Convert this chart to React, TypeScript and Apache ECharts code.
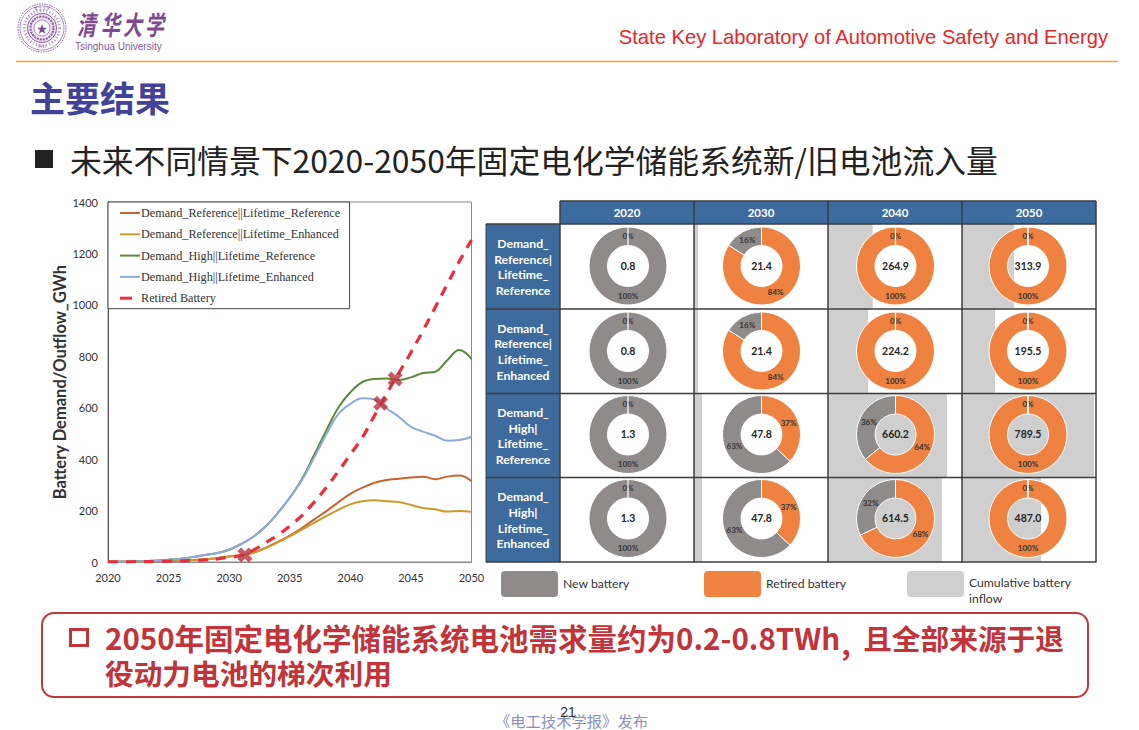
import React, { useEffect, useRef } from "react";
import * as echarts from "echarts";

const years = [2020,2021,2022,2023,2024,2025,2026,2027,2028,2029,2030,2031,2032,2033,2034,2035,2036,2037,2038,2039,2040,2041,2042,2043,2044,2045,2046,2047,2048,2049,2050];
const seriesNames = ["Demand_Reference||Lifetime_Reference","Demand_Reference||Lifetime_Enhanced","Demand_High||Lifetime_Reference","Demand_High||Lifetime_Enhanced","Retired Battery"];
const refRef = [0.8,0.9,1.2,2,3,4,5.5,7.5,10.5,15,21.4,27,36,55,78,103,132,165,197,232,264.9,289,308,319,324,329,332,322,332,336,313.9];
const refEnh = [0.8,0.9,1.2,2,3,4,5.5,7.5,10.5,15,21.4,27,36,54,76,100,126,152,178,203,224.2,236,240,236,233,222,210,205,196,198,195.5];
const highRef = [1.3,1,2,3,6,9,13,19,27,35,47.8,70,98,138,190,250,322,415,510,600,660.2,700,712,714,708,718,735,740,785,824,789.5];
const highEnh = [1.3,1,2,3,6,9,13,19,27,35,47.8,70,98,138,190,250,318,405,495,575,614.5,637,632,597,565,526,507,491,472,474,487];
const retired = [0.5,0.6,1,1.5,2,3,4,6,8,12,19,25,46,75,103,140,180,232,289,352,418,485,570,655,735,815,900,990,1080,1170,1252];
const crossPoints = [[2031.3,27],[2042.5,617],[2043.7,712]];
const yTicks = { min: 0, max: 1400, step: 200 };

const colHeads = ["2020","2030","2040","2050"];
const rowHeads = ["Demand_\nReference|\nLifetime_\nReference","Demand_\nReference|\nLifetime_\nEnhanced","Demand_\nHigh|\nLifetime_\nReference","Demand_\nHigh|\nLifetime_\nEnhanced"];
const retiredShare = [[0,84,100,100],[0,84,100,100],[0,37,64,100],[0,37,68,100]];
const newShare = [[100,16,0,0],[100,16,0,0],[100,63,36,0],[100,63,32,0]];
const totals = [["0.8","21.4","264.9","313.9"],["0.8","21.4","224.2","195.5"],["1.3","47.8","660.2","789.5"],["1.3","47.8","614.5","487.0"]];
const cumulativeShare = [[0,0.03,0.334,0.388],[0,0.03,0.3,0.246],[0,0.06,0.888,0.985],[0,0.06,0.85,0.59]];

const CJK = '"Noto Sans CJK SC"';
const LATIN = "Lato";
const colX = [628, 761.5, 895.5, 1028];
const rowY = [266, 351, 434.5, 518.5];
const colEdges = [560, 694, 828, 962, 1096];
const rowEdges = [224, 309, 393.5, 477.5, 562];
const INNER_R = 20.5;
const OUTER_R = 39;
const LABEL_R = 29.5;
const ORANGE = "#ef8240";
const GRAY = "#908b8b";
const LIGHT = "#cfcfcf";
const BLUE = "#3e6b9d";
const PURPLE = "#8a5a9e";
const lineColors = ["#c8642e","#cc9a2b","#5b8a3a","#8eaadb","#ee2c3c"];
const crossPath = "path://M5 0 L10 5 L15 0 L20 5 L15 10 L20 15 L15 20 L10 15 L5 20 L0 15 L5 10 L0 5 Z";
const legendLineIcon = "path://M0 0 L0 0 M0 0.5 H20 V2.5 H0 Z M20 3 L20 3";
const legendDashIcon = "path://M0 0 H12 V3 H0 Z M20 3 L20 3";

function txt(x: number, y: number, text: string, font: string, size: number, fill: string, extra: any = {}) {
  const { align = "left", weight = "normal", lineHeight, fontStyle, scaleY } = extra;
  const el: any = {
    type: "text", x, y, z: 20, silent: true,
    style: { text, fill, fontFamily: font, fontSize: size, fontWeight: weight, align, verticalAlign: "middle", lineHeight, fontStyle },
  };
  if (scaleY) el.scaleY = scaleY;
  return el;
}

function buildGraphics() {
  const g: any[] = [];
  // logo seal
  const seal = (r: number, style: any) => g.push({ type: "circle", z: 20, shape: { cx: 42, cy: 28, r }, style });
  seal(24, { fill: "#fff", stroke: PURPLE, lineWidth: 1, lineDash: [1.5, 1] });
  seal(22, { fill: "none", stroke: PURPLE, lineWidth: 0.7 });
  seal(17.5, { fill: "none", stroke: PURPLE, lineWidth: 3, lineDash: [1.2, 2], opacity: 0.6 });
  seal(14.5, { fill: "#f0e6f3", stroke: PURPLE, lineWidth: 1 });
  seal(11.5, { fill: "none", stroke: PURPLE, lineWidth: 2, lineDash: [2, 1] });
  seal(8, { fill: "#fff", stroke: PURPLE, lineWidth: 0.7 });
  g.push(txt(42, 28, "★", CJK, 11, "#7d4a92", { align: "center" }));
  g.push(txt(42, 8.5, "清 华 大 学", CJK, 3.4, PURPLE, { align: "center" }));
  g.push(txt(42, 46.5, "1911", LATIN, 3.6, PURPLE, { align: "center" }));
  [["清", 77], ["华", 101], ["大", 123], ["学", 145]].forEach(([c, x]: any) => {
    g.push(txt(x, 23, c, CJK, 19, "#7d4a92", { weight: "bold", fontStyle: "italic", scaleY: 1.4 }));
  });
  g.push(txt(75, 46, "Tsinghua University", '"Liberation Sans"', 10, PURPLE));
  g.push({ type: "line", z: 20, shape: { x1: 16, y1: 61.5, x2: 1118, y2: 61.5 }, style: { stroke: "#f0a536", lineWidth: 1.5 } });
  g.push(txt(1108, 37, "State Key Laboratory of Automotive Safety and Energy", '"Liberation Sans"', 20.2, "#e8262a", { align: "right" }));
  g.push(txt(30, 96, "主要结果", CJK, 35, "#43429a", { weight: "bold" }));
  g.push({ type: "rect", z: 20, shape: { x: 35, y: 150, width: 18, height: 18 }, style: { fill: "#222" } });
  g.push(txt(70, 158.5, "未来不同情景下2020-2050年固定电化学储能系统新/旧电池流入量", CJK, 31.8, "#222"));

  // table header cells
  colHeads.forEach((h, c) => {
    g.push({ type: "rect", z: 5, shape: { x: colEdges[c], y: 201, width: 134, height: 23 }, style: { fill: BLUE } });
    g.push(txt(colEdges[c] + 67, 212.5, h, LATIN, 11.5, "#fff", { align: "center", weight: "bold" }));
  });
  rowHeads.forEach((h, r) => {
    g.push({ type: "rect", z: 5, shape: { x: 486, y: rowEdges[r], width: 74, height: rowEdges[r + 1] - rowEdges[r] }, style: { fill: BLUE } });
    g.push(txt(523, (rowEdges[r] + rowEdges[r + 1]) / 2 + 0.5, h, LATIN, 12.2, "#fff", { align: "center", weight: "bold", lineHeight: 15.6 }));
  });
  // table rules
  const stroke = "#3c3c3c";
  colEdges.forEach((x) => g.push({ type: "line", z: 10, shape: { x1: x, y1: 201, x2: x, y2: 562.5 }, style: { stroke, lineWidth: 1.5 } }));
  g.push({ type: "line", z: 10, shape: { x1: 486, y1: 224, x2: 486, y2: 562.5 }, style: { stroke, lineWidth: 1 } });
  g.push({ type: "line", z: 10, shape: { x1: 560, y1: 201, x2: 1096, y2: 201 }, style: { stroke, lineWidth: 1.5 } });
  rowEdges.forEach((y) => g.push({ type: "line", z: 10, shape: { x1: 486, y1: y, x2: 1096, y2: y }, style: { stroke, lineWidth: 1.5 } }));
  // white seam on one-colour donuts, then the centre values
  totals.forEach((row, r) => row.forEach((t, c) => {
    if (retiredShare[r][c] === 0 || newShare[r][c] === 0) {
      g.push({ type: "line", z: 9, shape: { x1: colX[c], y1: rowY[r] - OUTER_R, x2: colX[c], y2: rowY[r] - INNER_R }, style: { stroke: "#fff", lineWidth: 1.2 } });
    }
    g.push(txt(colX[c], rowY[r] - 0.5, t, LATIN, 10.5, "#262626", { align: "center", weight: "bold" }));
  }));
  // legend swatches
  [[501, GRAY, "New battery"], [704, ORANGE, "Retired battery"], [907, LIGHT, "Cumulative battery\ninflow"]].forEach(([x, fill, label]: any, i) => {
    g.push({ type: "rect", z: 20, shape: { x, y: 571, width: 57, height: 26, r: 4 }, style: { fill } });
    g.push(txt(x + 62, i === 2 ? 590.5 : 583.5, label, LATIN, 12.2, "#333", { lineHeight: 16 }));
  });
  // callout
  g.push({ type: "rect", z: 15, shape: { x: 42, y: 613, width: 1046, height: 84, r: 12 }, style: { fill: "#fff", stroke: "#c0393b", lineWidth: 2 } });
  g.push({ type: "rect", z: 20, shape: { x: 70.5, y: 629.5, width: 17, height: 16, }, style: { fill: "none", stroke: "#c0343a", lineWidth: 3 } });
  g.push(txt(105, 637, "2050年固定电化学储能系统电池需求量约为0.2-0.8TWh", CJK, 29.5, "#c0343a", { weight: "bold" }));
  g.push(txt(846, 642, ",", CJK, 29, "#c0343a", { weight: "bold", align: "center" }));
  g.push(txt(1064, 637, "且全部来源于退", CJK, 28.7, "#c0343a", { weight: "bold", align: "right" }));
  g.push(txt(105, 672.5, "役动力电池的梯次利用", CJK, 28.7, "#c0343a", { weight: "bold" }));
  g.push(txt(495, 720, "《电工技术学报》发布", CJK, 15.3, "#8a8fc0"));
  g.push(txt(568, 712, "21", '"Liberation Sans"', 14, "#333", { align: "center" }));
  return g;
}

function buildOption() {
  const curves = [refRef, refEnh, highRef, highEnh, retired];
  const lineSeries = curves.map((vals, i) => ({
    type: "line", name: seriesNames[i], data: vals.map((v, k) => [years[k], v]),
    smooth: 0.4, symbol: "none", showSymbol: false, z: 3 + i,
    itemStyle: { color: lineColors[i] },
    lineStyle: { color: lineColors[i], width: i === 4 ? 3.2 : 2, type: i === 4 ? [10, 8] : "solid" },
  }));
  const donuts: any[] = [];
  rowHeads.forEach((_, r) => colHeads.forEach((__, c) => {
    const ret = retiredShare[r][c];
    const nw = newShare[r][c];
    const midAngles = [(ret / 2) * 3.6, (ret + nw / 2) * 3.6];
    donuts.push({
      type: "pie", z: 4, silent: true, center: [colX[c], rowY[r]], radius: [INNER_R, OUTER_R], startAngle: 90, clockwise: true,
      avoidLabelOverlap: false, stillShowZeroSum: true, minShowLabelAngle: 0,
      itemStyle: { borderColor: "#fff", borderWidth: 1 },
      label: { show: true, position: "inside", formatter: "{d}%", fontFamily: LATIN, fontSize: 8, fontWeight: "bold", color: "#333" },
      labelLine: { show: false },
      labelLayout: (p: any) => {
        const a = (midAngles[p.dataIndex] * Math.PI) / 180;
        const atTop = Math.abs(Math.sin(a)) < 1e-6 && Math.cos(a) > 0;
        const rad = atTop ? 30.5 : LABEL_R;
        return { x: colX[c] + Math.sin(a) * rad, y: rowY[r] - Math.cos(a) * rad, align: "center", verticalAlign: "middle" };
      },
      data: [
        { name: "Retired battery", value: ret, itemStyle: { color: ORANGE } },
        { name: "New battery", value: nw, itemStyle: { color: GRAY } },
      ],
    });
  }));
  const cumulativeData: number[][] = [];
  cumulativeShare.forEach((row, r) => row.forEach((s, c) => { if (s > 0) cumulativeData.push([c, r, s]); }));
  return {
    animation: false,
    backgroundColor: "#fff",
    textStyle: { fontFamily: LATIN },
    grid: [
      { left: 108, top: 202, width: 363.5, height: 360, show: true, borderColor: "#8a8a8a", borderWidth: 1, backgroundColor: "#fff" },
      { left: 560, top: 224, width: 536, height: 338, show: false },
    ],
    xAxis: [
      { type: "value", gridIndex: 0, min: 2020, max: 2050, interval: 5, splitLine: { show: false }, axisTick: { show: false },
        axisLine: { lineStyle: { color: "#8a8a8a" } },
        axisLabel: { color: "#333", fontSize: 11, fontFamily: LATIN, margin: 10, formatter: (v: number) => String(v) } },
      { type: "value", gridIndex: 1, min: 0, max: 4, show: false },
    ],
    yAxis: [
      { type: "value", gridIndex: 0, min: yTicks.min, max: yTicks.max, interval: yTicks.step, splitLine: { show: false }, axisTick: { show: false },
        axisLine: { show: true, lineStyle: { color: "#555" } },
        axisLabel: { color: "#333", fontSize: 11, fontFamily: LATIN, margin: 10, formatter: (v: number) => String(v) },
        name: "Battery Demand/Outflow_GWh", nameLocation: "middle", nameGap: 40,
        nameTextStyle: { color: "#333", fontSize: 16.5, fontWeight: "bold", fontFamily: LATIN } },
      { type: "value", gridIndex: 1, min: 0, max: 4, inverse: true, show: false },
    ],
    legend: {
      orient: "vertical", left: 108, top: 202, itemWidth: 20, itemHeight: 3, itemGap: 9.3,
      padding: [5, 9.5, 4.5, 12], backgroundColor: "#fff", borderColor: "#444", borderWidth: 1, borderRadius: 0,
      selectedMode: false,
      data: seriesNames.map((name, i) => ({ name, icon: i === 4 ? legendDashIcon : legendLineIcon })),
      itemStyle: { borderWidth: 0 },
      textStyle: { fontFamily: '"Liberation Serif"', fontSize: 12.2, color: "#333", padding: [0, 0, 0, -4] },
    },
    graphic: { elements: buildGraphics() },
    series: [
      ...lineSeries,
      { type: "scatter", name: "Crossing", data: crossPoints, symbol: crossPath, symbolSize: 15, z: 9, itemStyle: { color: "#b8323f" } },
      {
        type: "custom", name: "Cumulative battery inflow", xAxisIndex: 1, yAxisIndex: 1, z: 1, silent: true, data: cumulativeData,
        clip: false,
        renderItem: (_: any, api: any) => {
          const c = api.value(0), r = api.value(1), s = api.value(2);
          const a = api.coord([c, r]);
          const b = api.coord([c + s, r + 1]);
          return { type: "rect", shape: { x: a[0], y: a[1], width: b[0] - a[0], height: b[1] - a[1] }, style: { fill: LIGHT } };
        },
      },
      ...donuts,
    ],
  };
}

export default function App() {
  const ref = useRef<HTMLDivElement>(null);
  useEffect(() => {
    document.body.style.margin = "0";
    const chart = echarts.init(ref.current!, undefined, { renderer: "svg" });
    chart.setOption(buildOption() as any);
    return () => chart.dispose();
  }, []);
  return <div ref={ref} style={{ position: "absolute", left: 0, top: 0, width: 1139, height: 730 }} />;
}
